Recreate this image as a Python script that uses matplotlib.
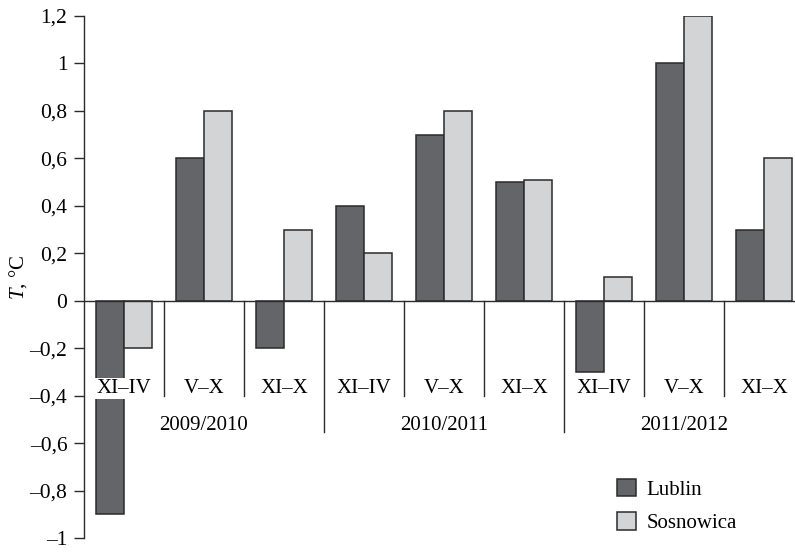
import matplotlib
matplotlib.use('Agg')
import matplotlib.pyplot as plt
import numpy as np

plt.rcParams['font.family'] = 'Liberation Serif'
plt.rcParams['mathtext.fontset'] = 'custom'
plt.rcParams['mathtext.rm'] = 'Liberation Serif'
plt.rcParams['mathtext.it'] = 'Liberation Serif:italic'

periods = ['XI\u2013IV', 'V\u2013X', 'XI\u2013X'] * 3
years = ['2009/2010', '2010/2011', '2011/2012']
lublin = [-0.9, 0.6, -0.2, 0.4, 0.7, 0.5, -0.3, 1.0, 0.3]
sosnowica = [-0.2, 0.8, 0.3, 0.2, 0.8, 0.51, 0.1, 1.2, 0.6]
yticks = [-1, -0.8, -0.6, -0.4, -0.2, 0, 0.2, 0.4, 0.6, 0.8, 1, 1.2]

dark = '#646569'
light = '#d3d4d6'
edge = '#2b2b2b'

fig = plt.figure(figsize=(7.95, 5.52), dpi=100)
ax = fig.add_axes([84 / 795, 14 / 552, 720 / 795, 522 / 552])

x = np.arange(len(lublin)) + 0.5
w = 0.35
ax.bar(x - w / 2, lublin, w, color=dark, edgecolor=edge, linewidth=1.1, label='Lublin', zorder=2)
ax.bar(x + w / 2, sosnowica, w, color=light, edgecolor=edge, linewidth=1.1, label='Sosnowica', zorder=2)

ax.set_xlim(0, 9)
ax.set_ylim(-1, 1.2)
ax.axhline(0, color=edge, linewidth=1, zorder=3)

# separators between periods and years
for i in range(1, 9):
    bottom = -0.555 if i % 3 == 0 else -0.4
    ax.plot([i, i], [0, bottom], color=edge, linewidth=1, zorder=1)

for i, lab in enumerate(periods):
    t = ax.text(x[i], -0.37, lab, ha='center', va='center', fontsize=15, zorder=4)
    if i == 0:
        t.set_bbox(dict(facecolor='white', edgecolor='none', pad=1))

for j, yr in enumerate(years):
    ax.text(3 * j + 1.5, -0.525, yr, ha='center', va='center', fontsize=15)

ax.set_yticks(yticks)
ax.set_yticklabels([('%g' % v).replace('.', ',').replace('-', '\u2013') for v in yticks], fontsize=15.5)
ax.tick_params(axis='y', direction='out', length=7, width=1, color=edge, pad=5)
ax.set_xticks([])
for s in ['top', 'right', 'bottom']:
    ax.spines[s].set_visible(False)
ax.spines['left'].set_color(edge)
ax.spines['left'].set_linewidth(1)

ax.set_ylabel(r'$\it{T}$, °C', fontsize=15)
ax.yaxis.set_label_coords(-0.076, 0.5)

ax.legend(loc='upper left', bbox_to_anchor=(617 / 795, 1 - 479 / 552),
          bbox_transform=fig.transFigure, frameon=False, fontsize=15,
          handlelength=0.9, handleheight=0.9, handletextpad=0.5,
          labelspacing=0.6, borderpad=0, borderaxespad=0)

fig.savefig('out.png', dpi=100)
